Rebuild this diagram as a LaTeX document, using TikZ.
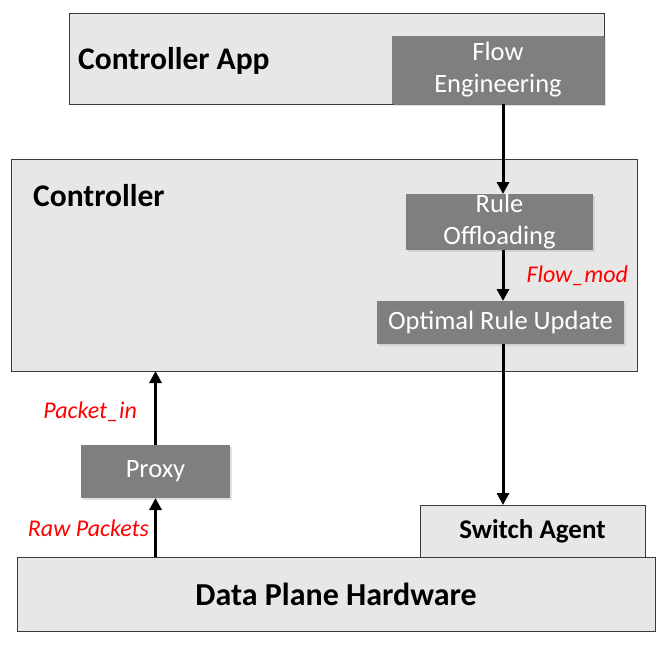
\documentclass[tikz,border=0pt]{standalone}
\usepackage{fontspec}
\setmainfont{Carlito}
\usetikzlibrary{arrows.meta,shadows}
\definecolor{grey100}{HTML}{E7E7E7}
\definecolor{grey500}{HTML}{7F7F7F}
\definecolor{grey800}{HTML}{3A3A3A}
\definecolor{red600} {HTML}{FF0000}
\tikzset{
  panel/.style ={draw=grey800, line width=0.9pt, fill=grey100,
                 inner sep=0pt, outer sep=0pt, align=center},
  block/.style ={fill=grey500, text=white, align=center, inner sep=0pt,
                 outer sep=0pt, font=\fontsize{26.5}{32}\selectfont,
                 drop shadow={shadow xshift=1.5pt, shadow yshift=-1.5pt,
                              fill=black!25}},
  ttl/.style   ={font=\bfseries\fontsize{31.5}{34}\selectfont, anchor=west,
                 inner sep=0pt},
  ar/.style    ={-{Triangle[length=12pt,width=12pt]}, line width=3pt},
  msg/.style   ={font=\itshape\fontsize{24}{28}\selectfont, text=red600,
                 inner sep=0pt}
}
\begin{document}
\begin{tikzpicture}[x=1pt,y=-1pt]
\useasboundingbox (0,0) rectangle (666,646);
% upper layers
\node[panel, minimum width=535, minimum height=91] (app) at (336.5,58.5) {};
\node[ttl] (apptitle) at (78,61) {Controller App};
\node[block, minimum width=212, minimum height=68] (flow) at (498,70)
  {Flow\\Engineering};
\node[panel, minimum width=626, minimum height=212] (ctrl) at (324,265) {};
\node[ttl] (ctrltitle) at (33,196) {Controller};
\node[block, minimum width=187, minimum height=56] (rule) at (499.5,222)
  {Rule\\Offloading};
\node[block, minimum width=247, minimum height=43] (optimal) at (500.5,322.5)
  {Optimal Rule Update};
% switch side
\node[block, minimum width=149, minimum height=53] (proxy) at (155.5,471.5)
  {Proxy};
\node[panel, minimum width=225, minimum height=52,
      font=\bfseries\fontsize{27}{30}\selectfont] (agent) at (532.5,531)
  {Switch Agent};
\node[panel, minimum width=638, minimum height=74,
      font=\bfseries\fontsize{32}{36}\selectfont] (data) at (336,594)
  {Data Plane Hardware};

\draw[ar] ([xshift=5]flow.south) -- ([xshift=3.5]rule.north);
\draw[ar] ([xshift=3.5]rule.south) -- node[msg, right=22pt]{Flow\_mod}
  ([xshift=2.5]optimal.north);
\draw[ar] ([xshift=2.5]optimal.south) -- ([xshift=-29.5]agent.north);
\draw[ar] (proxy.south |- data.north) -- node[msg, left=5pt, pos=0.49]
  {Raw Packets} (proxy.south);
\draw[ar] (proxy.north) -- node[msg, left=17pt, pos=0.45]{Packet\_in}
  (proxy.north |- ctrl.south);
\end{tikzpicture}
\end{document}
